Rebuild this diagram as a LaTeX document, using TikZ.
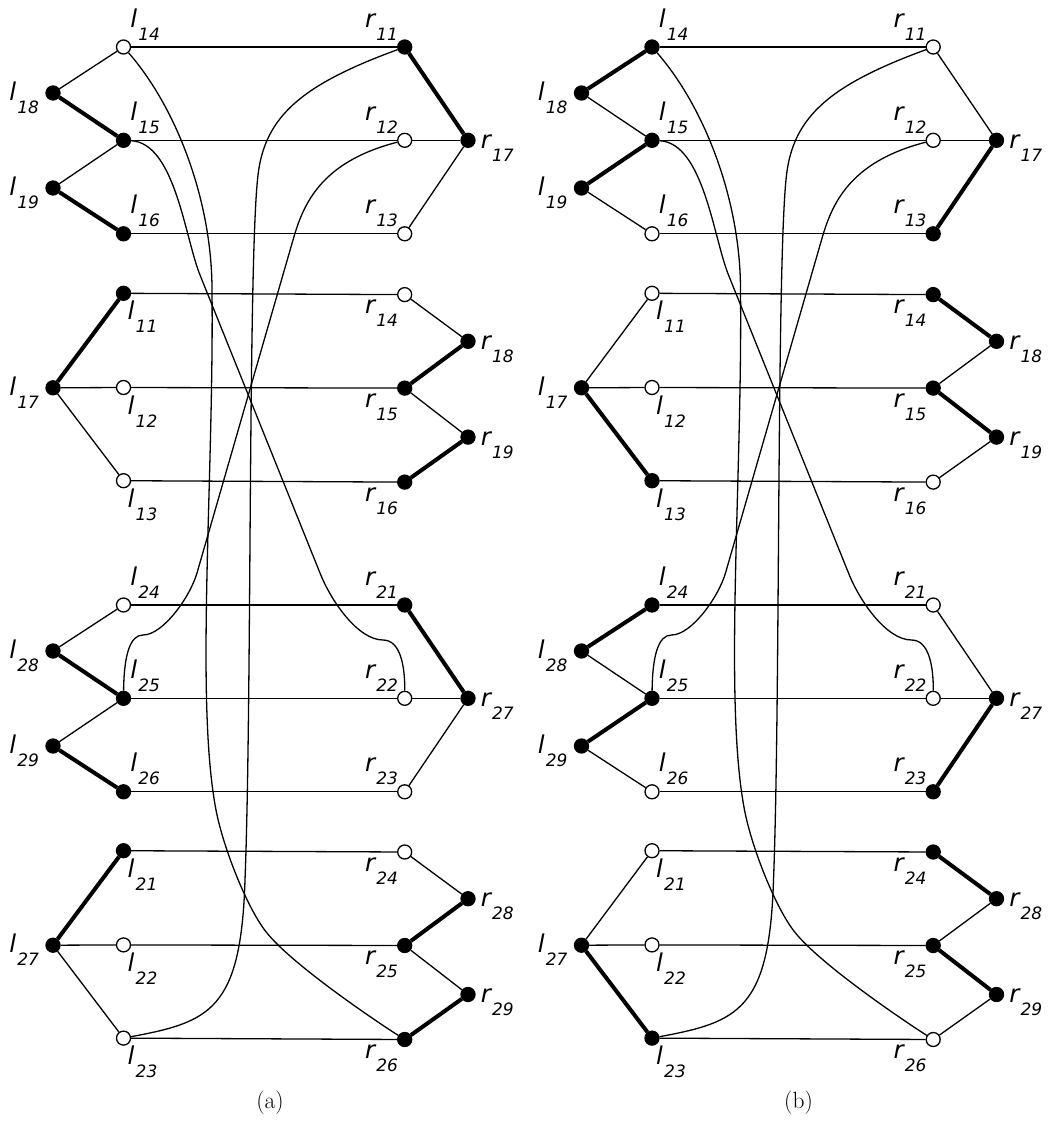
\documentclass[tikz,border=0pt]{standalone}
\usepackage{fontspec}
\newfontfamily\labfont{DejaVu Sans}
\usetikzlibrary{backgrounds}
\newcommand\lab[2]{{\labfont\fontsize{24.5}{24.5}\selectfont\itshape #1\kern1.2pt\raisebox{-13pt}{\fontsize{17}{17}\selectfont #2}}}
\newcommand\N[7]{\node[#4] (#1) at (#2,#3) {};\node[lbl,#5] (#1-t) at (#1.center) {\lab{#6}{#7}};}
\tikzset{
 vtx/.style={circle,draw=black,line width=1.3pt,minimum size=14pt,inner sep=0pt},
 vfull/.style={vtx,fill=black},
 vopen/.style={vtx,fill=white},
 lbl/.style={inner sep=0pt,outer sep=0pt,anchor=base west},
 LA/.style={xshift=6.9pt,yshift=20pt},
 RA/.style={xshift=-39.7pt,yshift=20pt},
 LL/.style={xshift=-43.6pt,yshift=-7.5pt},
 RR/.style={xshift=12.8pt,yshift=-8pt},
 LB/.style={xshift=4.2pt,yshift=-26.5pt},
 RB/.style={xshift=-39.7pt,yshift=-19pt},
 ln/.style={line width=1.3pt},
 bln/.style={line width=4pt},
 captxt/.style={font=\fontsize{23.5}{28}\selectfont},
}
\newcommand\Tnodes[9]{%
 \N{#1-l#24}{123.5}{#3}{#4}{LA}{l}{#24}%
 \N{#1-l#25}{123.5}{#3+93.3}{#5}{LA}{l}{#25}%
 \N{#1-l#26}{123.5}{#3+186.8}{#6}{LA}{l}{#26}%
 \N{#1-l#28}{53}{#3+46}{vfull}{LL}{l}{#28}%
 \N{#1-l#29}{53}{#3+141}{vfull}{LL}{l}{#29}%
 \N{#1-r#21}{404.7}{#3}{#7}{RA}{r}{#21}%
 \N{#1-r#22}{404.7}{#3+93.3}{#8}{RA}{r}{#22}%
 \N{#1-r#23}{404.7}{#3+186.8}{#9}{RA}{r}{#23}%
 \N{#1-r#27}{468}{#3+93.3}{vfull}{RR}{r}{#27}%
}
\newcommand\Bnodes[9]{%
 \N{#1-l#21}{123.5}{#3}{#4}{LB}{l}{#21}%
 \N{#1-l#22}{123.5}{#3+94.2}{#5}{LB}{l}{#22}%
 \N{#1-l#23}{123.5}{#3+187.4}{#6}{LB}{l}{#23}%
 \N{#1-l#27}{53}{#3+94.5}{vfull}{LL}{l}{#27}%
 \N{#1-r#24}{404.7}{#3+1.3}{#7}{RB}{r}{#24}%
 \N{#1-r#25}{404.7}{#3+94.8}{#8}{RB}{r}{#25}%
 \N{#1-r#26}{404.7}{#3+188.8}{#9}{RB}{r}{#26}%
 \N{#1-r#28}{468}{#3+48}{vfull}{RR}{r}{#28}%
 \N{#1-r#29}{468}{#3+143.8}{vfull}{RR}{r}{#29}%
}
\newcommand\Tedges[9]{%
 \draw[#3] (#1-l#28)--(#1-l#24); \draw[#4] (#1-l#28)--(#1-l#25);
 \draw[#5] (#1-l#29)--(#1-l#25); \draw[#6] (#1-l#29)--(#1-l#26);
 \draw[ln] (#1-l#24)--(#1-r#21) (#1-l#25)--(#1-r#22) (#1-l#26)--(#1-r#23);
 \draw[#7] (#1-r#21)--(#1-r#27); \draw[#8] (#1-r#22)--(#1-r#27); \draw[#9] (#1-r#23)--(#1-r#27);
}
\newcommand\Bedges[9]{%
 \draw[#3] (#1-l#27)--(#1-l#21); \draw[#4] (#1-l#27)--(#1-l#22); \draw[#5] (#1-l#27)--(#1-l#23);
 \draw[ln] (#1-l#21)--(#1-r#24) (#1-l#22)--(#1-r#25) (#1-l#23)--(#1-r#26);
 \draw[#6] (#1-r#24)--(#1-r#28); \draw[#7] (#1-r#25)--(#1-r#28);
 \draw[#8] (#1-r#25)--(#1-r#29); \draw[#9] (#1-r#26)--(#1-r#29);
}
\newcommand\Curves[1]{%
 \draw[ln] (#1-l14) .. controls (176,107) and (212,200) .. (212,290)
   .. controls (214,480) and (195,700) .. (216,810)
   .. controls (223.5,849) and (248,910) .. (267,933)
   .. controls (292,964) and (371,1018) .. (#1-r26);
 \draw[ln] (#1-l15) .. controls (175,143) and (185,238) .. (200,275) -- (320,573)
   .. controls (331,601) and (358,640) .. (383,640)
   .. controls (400,640) and (405,665) .. (#1-r22);
 \draw[ln] (#1-r12) .. controls (320,162) and (303,205) .. (293,240) -- (197,573)
   .. controls (190,597) and (163,635) .. (143,635)
   .. controls (130,635) and (124,655) .. (#1-l25);
 \draw[ln] (#1-r11) .. controls (304,84) and (265,115) .. (258,175)
   .. controls (248,260) and (252,700) .. (245,880)
   .. controls (241,1010) and (210,1022) .. (#1-l23);
}
\begin{document}
\begin{tikzpicture}[x=1pt,y=-1pt]
\useasboundingbox (0,0) rectangle (1060,1122);
% panel (a)
\Tnodes{a}{1}{47}{vopen}{vfull}{vfull}{vfull}{vopen}{vopen}
\Bnodes{a}{1}{293.3}{vfull}{vopen}{vopen}{vopen}{vfull}{vfull}
\Tnodes{a}{2}{605}{vopen}{vfull}{vfull}{vfull}{vopen}{vopen}
\Bnodes{a}{2}{850.7}{vfull}{vopen}{vopen}{vopen}{vfull}{vfull}
\node[captxt] (capa) at (270,1103) {(a)};
\begin{pgfonlayer}{background}
\Tedges{a}{1}{ln}{bln}{ln}{bln}{bln}{ln}{ln}
\Bedges{a}{1}{bln}{ln}{ln}{ln}{bln}{ln}{bln}
\Tedges{a}{2}{ln}{bln}{ln}{bln}{bln}{ln}{ln}
\Bedges{a}{2}{bln}{ln}{ln}{ln}{bln}{ln}{bln}
\Curves{a}
\end{pgfonlayer}
% panel (b)
\begin{scope}[xshift=528.5pt]
\Tnodes{b}{1}{47}{vfull}{vfull}{vopen}{vopen}{vopen}{vfull}
\Bnodes{b}{1}{293.3}{vopen}{vopen}{vfull}{vfull}{vfull}{vopen}
\Tnodes{b}{2}{605}{vfull}{vfull}{vopen}{vopen}{vopen}{vfull}
\Bnodes{b}{2}{850.7}{vopen}{vopen}{vfull}{vfull}{vfull}{vopen}
\node[captxt] (capb) at (270,1103) {(b)};
\begin{pgfonlayer}{background}
\Tedges{b}{1}{bln}{ln}{bln}{ln}{ln}{ln}{bln}
\Bedges{b}{1}{ln}{ln}{bln}{bln}{ln}{bln}{ln}
\Tedges{b}{2}{bln}{ln}{bln}{ln}{ln}{ln}{bln}
\Bedges{b}{2}{ln}{ln}{bln}{bln}{ln}{bln}{ln}
\Curves{b}
\end{pgfonlayer}
\end{scope}
\end{tikzpicture}
\end{document}
